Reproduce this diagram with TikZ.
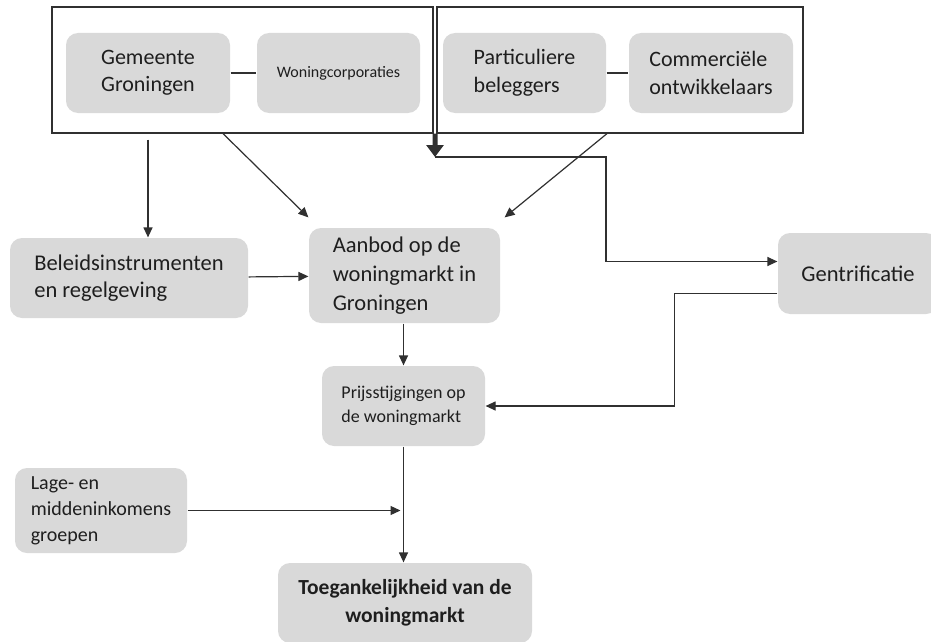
\documentclass[tikz,border=0pt]{standalone}
\usepackage{fontspec}
\setmainfont{Carlito}
\usepackage{tikz}
\usetikzlibrary{arrows.meta,positioning,calc}
\definecolor{boxgray}{HTML}{D9D9D9}
\definecolor{ink}{HTML}{1E1E1E}
\definecolor{wire}{HTML}{303030}
\newcommand{\graybox}[6]{
  \node[fill=boxgray,draw=none,rounded corners=12pt,minimum width=#3,minimum height=#4,inner sep=0pt,text=ink,align=left,font=#5] (#1) at #2 {#6};
}
\newcommand{\groupbox}[4]{
  \node[draw=wire,minimum width=#3,minimum height=#4,inner sep=0pt] (#1) at #2 {};
}

\begin{document}
\begin{tikzpicture}[x=1pt,y=-1pt,>={Triangle[length=10pt,width=9pt]},line width=1.2pt,draw=wire]
  \clip (0,0) rectangle (931,642);
  \fill[white] (0,0) rectangle (931,642);
  % actors
  \groupbox{grpL}{(242.5,70)}{381pt}{126pt}
  \groupbox{grpR}{(620,70)}{366pt}{126pt}
  \graybox{gem}{(148,73)}{164pt}{80pt}{\fontsize{22}{27}\selectfont}{Gemeente\\Groningen}
  \graybox{woco}{(338.5,73)}{163pt}{80pt}{\fontsize{16}{19}\selectfont}{Woningcorporaties}
  \graybox{part}{(524.5,73)}{163pt}{80pt}{\fontsize{22}{28}\selectfont}{Particuliere\\beleggers}
  \graybox{comm}{(711,73)}{164pt}{80pt}{\fontsize{22}{28}\selectfont}{Commerciële\\ontwikkelaars}
  % middle
  \graybox{beleid}{(129,278)}{238pt}{80pt}{\fontsize{22.5}{27}\selectfont}{Beleidsinstrumenten\\en regelgeving}
  \graybox{aanbod}{(404.5,275.5)}{191pt}{95pt}{\fontsize{22.5}{29}\selectfont}{Aanbod op de\\woningmarkt in\\Groningen}
  \graybox{gentr}{(858,273.5)}{160pt}{81pt}{\fontsize{22.5}{27}\selectfont}{Gentrificatie}
  \graybox{prijs}{(403.5,406)}{163pt}{80pt}{\fontsize{18}{24}\selectfont}{Prijsstijgingen op\\de woningmarkt}
  \graybox{lage}{(101,510.5)}{172pt}{85pt}{\fontsize{20}{26}\selectfont}{Lage- en\\middeninkomens\\groepen}
  \node[fill=boxgray,rounded corners=12pt,minimum width=254pt,minimum height=80pt,inner sep=0pt,text=ink,align=center,font=\fontsize{21.5}{28}\selectfont\bfseries] (toeg) at (405,603) {Toegankelijkheid van de\\woningmarkt};
  \coordinate (mid) at ($(grpL.south east)!0.5!(grpR.south west)$);
  \coordinate (split) at (435,157);
  % connectors
  \draw (gem) -- (woco);
  \draw (part) -- (comm);
  \draw[->] ([yshift=-6pt]grpL.south -| gem) -- (gem |- beleid.north);
  \draw[->] ([xshift=-19.5pt]grpL.south) -- ([yshift=10pt]aanbod.north west);
  \draw[->] ([xshift=-13pt]grpR.south) -- ([xshift=4pt,yshift=10pt]aanbod.north east);
  \draw[->] (beleid) -- (aanbod);
  \draw[line width=5pt,-{Triangle[length=12pt,width=17pt]}] (mid) -- (split);
  \draw[->] (split) -- ++(171,0) |- ([yshift=12pt]gentr.west);
  \draw[->] ([yshift=-20pt]gentr.west) -- ++(-103,0) |- (prijs.east);
  \draw[->] (aanbod.south -| prijs.north) -- (prijs.north);
  \draw[->] (prijs.south) -- (prijs.south |- toeg.north);
  \draw[->] (lage.east) -- ([xshift=-3pt]lage.east -| prijs.south);
\end{tikzpicture}
\end{document}
